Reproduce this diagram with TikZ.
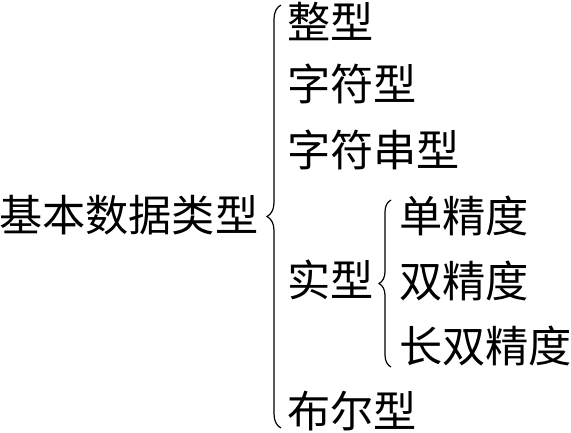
\documentclass[tikz,border=0pt]{standalone}
\usepackage{fontspec}
\newfontfamily\cjk{Noto Sans CJK SC}
\usetikzlibrary{decorations.pathreplacing}
\tikzset{
  lbl/.style={anchor=west, inner sep=0pt, font=\cjk\fontsize{43.2}{50}\selectfont},
  bracebig/.style={draw, line width=1.2pt, decorate, decoration={brace, amplitude=14pt}},
  bracesmall/.style={draw, line width=1.2pt, decorate, decoration={brace, amplitude=12pt}}
}
\begin{document}
\begin{tikzpicture}[x=1pt,y=-1pt]
\useasboundingbox (0,0) rectangle (571,432);
\node[lbl] (root) at (-1,215) {基本数据类型};
\node[lbl] (a) at (287,21) {整型};
\node[lbl] (b) at (287,84) {字符型};
\node[lbl] (c) at (287,150) {字符串型};
\node[lbl] (d) at (287,280) {实型};
\node[lbl] (e) at (287,411) {布尔型};
\node[lbl] (d1) at (399,216) {单精度};
\node[lbl] (d2) at (399,281) {双精度};
\node[lbl] (d3) at (399,346) {长双精度};
\coordinate (B1) at (281,428);
\coordinate (B2) at (281,5);
\coordinate (S1) at (391,367);
\coordinate (S2) at (391,200);
\draw[bracebig] (B1) -- (B2);
\draw[bracesmall] (S1) -- (S2);
\end{tikzpicture}
\end{document}
